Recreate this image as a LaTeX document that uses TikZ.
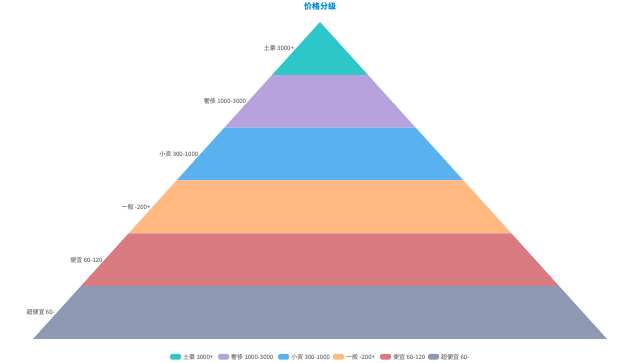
\documentclass[tikz,border=0pt]{standalone}
\usepackage{fontspec}
\setmainfont{Noto Sans CJK SC}
\usetikzlibrary{positioning}
\definecolor{cA}{HTML}{2EC7C9}
\definecolor{cB}{HTML}{B6A2DE}
\definecolor{cC}{HTML}{5AB1EF}
\definecolor{cD}{HTML}{FFB980}
\definecolor{cE}{HTML}{D87A80}
\definecolor{cF}{HTML}{8D98B3}
\definecolor{titlec}{HTML}{008ACD}
\definecolor{labc}{HTML}{444444}
\tikzset{
  lab/.style={font=\fontsize{6}{7}\selectfont, text=labc, inner sep=0pt, anchor=east},
  legtext/.style={font=\fontsize{6}{7}\selectfont, text=labc, inner sep=0pt, anchor=west},
  sw/.style={rounded corners=1.5pt, draw=none}
}
\begin{document}
\begin{tikzpicture}[x=1pt,y=-1pt]
\useasboundingbox (0,0) rectangle (640,363);
% pyramid geometry: apex (320,22), base y=339, half-width 287
\def\layer#1#2#3{%
  \pgfmathsetmacro\ya{22+52.833*#1}%
  \pgfmathsetmacro\yb{22+52.833*(#1+1)}%
  \pgfmathsetmacro\wa{0.905363*(\ya-22)}%
  \pgfmathsetmacro\wb{0.905363*(\yb-22)}%
  \fill[#2] (320-\wa,\ya) -- (320+\wa,\ya) -- (320+\wb,\yb) -- (320-\wb,\yb) -- cycle;
  \pgfmathsetmacro\ym{(\ya+\yb)/2}%
  \pgfmathsetmacro\wm{0.905363*(\ym-22)}%
  \node[lab] (l#1) at (320-\wm-2,\ym) {#3};
}
\layer{0}{cA}{土豪 3000+}
\layer{1}{cB}{奢侈 1000-3000}
\layer{2}{cC}{小资 300-1000}
\layer{3}{cD}{一般 -200+}
\layer{4}{cE}{便宜 60-120}
\layer{5}{cF}{超便宜 60-}
\node[font=\fontsize{8}{9}\selectfont\bfseries, text=titlec, inner sep=0pt] (title) at (320,6) {价格分级};
% legend
\def\leg#1#2#3{%
  \fill[sw,#2] (#1,354) rectangle (#1+11,359.5);
  \node[legtext] (lg#1) at (#1+13,356.8) {#3};
}
\leg{170}{cA}{土豪 3000+}
\leg{218}{cB}{奢侈 1000-3000}
\leg{278}{cC}{小资 300-1000}
\leg{333}{cD}{一般 -200+}
\leg{380}{cE}{便宜 60-120}
\leg{428}{cF}{超便宜 60-}
\end{tikzpicture}
\end{document}
